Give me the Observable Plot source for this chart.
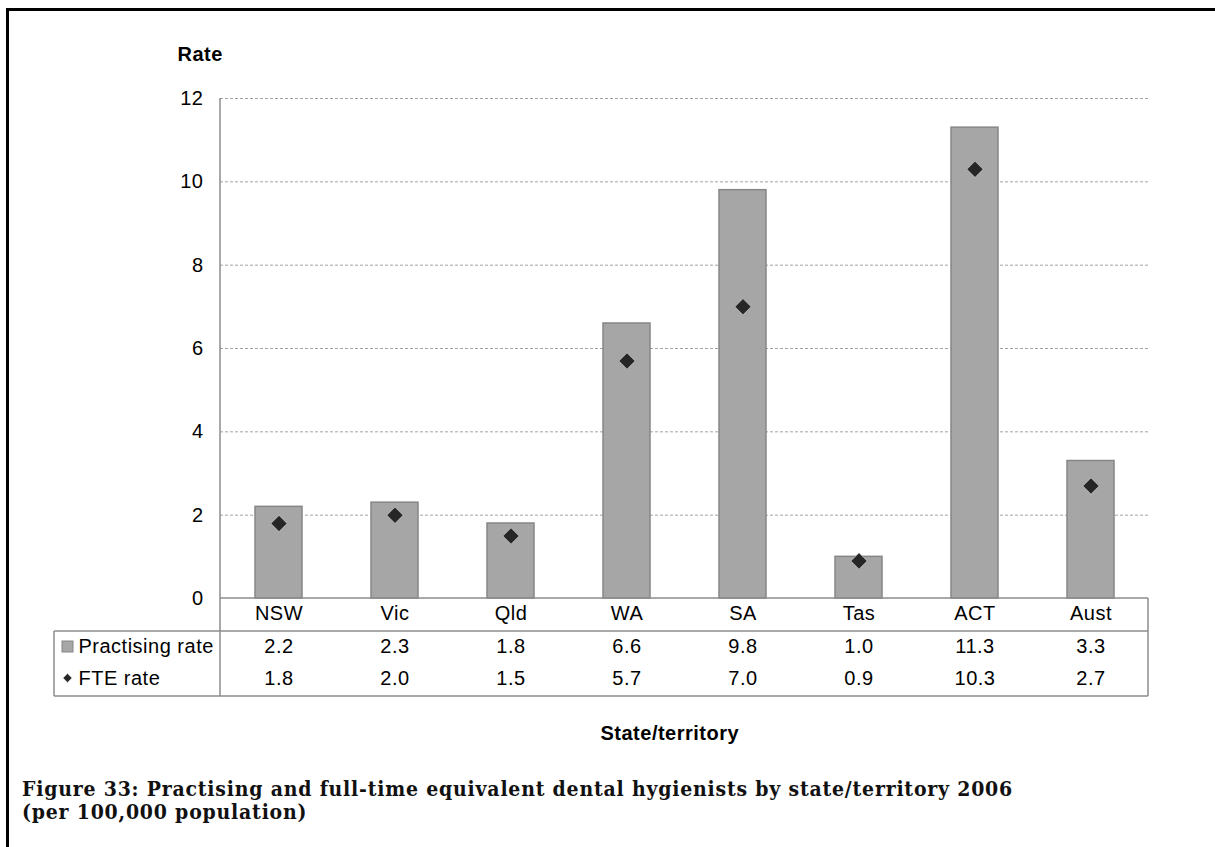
<!DOCTYPE html>
<html><head><meta charset="utf-8">
<script src="https://cdn.jsdelivr.net/npm/d3@7"></script>
<script src="https://cdn.jsdelivr.net/npm/@observablehq/plot@0.6"></script>
<style>
body{margin:0;background:#fff;width:1215px;height:847px;overflow:hidden;position:relative;}
#frame{position:absolute;left:6px;top:8px;width:1209px;height:839px;border-top:3px solid #000;border-left:3px solid #000;box-sizing:border-box;}
#chart{position:absolute;left:0;top:0;}
#caption{position:absolute;left:22px;top:777px;font-family:"DejaVu Serif Condensed","DejaVu Serif",serif;font-stretch:condensed;font-weight:bold;font-size:21px;line-height:23px;color:#111;white-space:nowrap;}
</style></head><body>
<div id="frame"></div>
<div id="chart"></div>
<div id="caption"><span id="cap1">Figure 33: Practising and full-time equivalent dental hygienists by state/territory 2006</span><br>(per 100,000 population)</div>
<script>
const states = ["NSW","Vic","Qld","WA","SA","Tas","ACT","Aust"];
const practisingRate = [2.2,2.3,1.8,6.6,9.8,1.0,11.3,3.3];
const fteRate = [1.8,2.0,1.5,5.7,7.0,0.9,10.3,2.7];
const yTicks = [0,2,4,6,8,10,12];
const seriesLabels = ["Practising rate","FTE rate"];
const yLabel = "Rate";
const xLabel = "State/territory";

const rows = states.map((s,i)=>({state:s, practising:practisingRate[i], fte:fteRate[i]}));

const W=1215, H=760, mL=220, mR=67, mT=98, mB=162;
const font = "'Liberation Sans', Arial, sans-serif";
const txt = {fontSize:20, fill:"#000", fontFamily:font, lineAnchor:"middle"};

const plot = Plot.plot({
  width:W, height:H, marginLeft:mL, marginRight:mR, marginTop:mT, marginBottom:mB,
  style:{fontFamily:font, fontSize:"20px", color:"#000", background:"transparent", overflow:"visible", letterSpacing:"0.5px"},
  x:{domain:states, paddingInner:0.595, paddingOuter:0.2975, axis:null},
  y:{domain:[0,12], ticks:yTicks, tickSize:0, tickPadding:17, label:null, line:false, tickFormat:d=>String(d)},
  marks:[
    Plot.ruleY(yTicks.filter(d=>d>0), {stroke:"#a3a3a3", strokeDasharray:"3,2", strokeWidth:1}),
    Plot.barY(rows, {x:"state", y:"practising", fill:"#a6a6a6", stroke:"#868686", strokeWidth:1.5}),
    Plot.dot(rows, {x:"state", y:"fte", symbol:"diamond2", r:7.6, fill:"#c4c4c4", stroke:"none"}),
    Plot.dot(rows, {x:"state", y:"fte", symbol:"diamond2", r:7.0, fill:"#262626", stroke:"none"}),
    Plot.text(rows, {x:"state", text:"state", frameAnchor:"bottom", dy:15, ...txt}),
    Plot.text(rows, {x:"state", text:d=>d.practising.toFixed(1), frameAnchor:"bottom", dy:48, ...txt}),
    Plot.text(rows, {x:"state", text:d=>d.fte.toFixed(1), frameAnchor:"bottom", dy:80, ...txt}),
    Plot.text([seriesLabels[0]], {text:d=>d, frameAnchor:"bottom-left", dx:-142, dy:48, textAnchor:"start", ...txt}),
    Plot.text([seriesLabels[1]], {text:d=>d, frameAnchor:"bottom-left", dx:-142, dy:80, textAnchor:"start", ...txt}),
    Plot.text([yLabel], {text:d=>d, frameAnchor:"top-left", dx:-43, dy:-44, textAnchor:"start", fontWeight:"bold", ...txt}),
    Plot.text([xLabel], {text:d=>d, frameAnchor:"bottom-left", dx:380, dy:135, fontWeight:"bold", ...txt})
  ]
});
document.getElementById("chart").appendChild(plot);

// table grid and legend symbols (frame decoration derived from margins)
const svg = d3.select(plot);
const x0 = mL, x1 = W - mR, yTop = mT, yBase = H - mB;
const tableLeft = 54, rowSep = yBase + 33, tableBottom = yBase + 98;
const g = svg.append("g").attr("stroke","#8c8c8c").attr("stroke-width",1.5).attr("fill","none");
[[x0,yTop,x0,tableBottom],[x0,yBase,x1,yBase],[tableLeft,rowSep,x1,rowSep],[tableLeft,tableBottom,x1,tableBottom],
 [tableLeft,rowSep,tableLeft,tableBottom],[x1,yBase,x1,tableBottom]].forEach(([a,b,c,d])=>{
  g.append("line").attr("x1",a).attr("y1",b).attr("x2",c).attr("y2",d);
});
svg.append("rect").attr("x",62).attr("y",yBase+43).attr("width",11).attr("height",11)
  .attr("fill","#a6a6a6").attr("stroke","#868686").attr("stroke-width",1);
svg.append("path").attr("d",d3.symbol(d3.symbolDiamond2, 50)()).attr("transform",`translate(67.5,${yBase+80})`)
  .attr("fill","#262626").attr("stroke","#c4c4c4").attr("stroke-width",1);

// fit caption width to reference via letter spacing
const cap = document.getElementById("cap1");
const w = cap.getBoundingClientRect().width;
const n = cap.textContent.length;
const ls = Math.max(0, (991 - w) / n);
document.getElementById("caption").style.letterSpacing = ls + "px";
</script>
</body></html>
